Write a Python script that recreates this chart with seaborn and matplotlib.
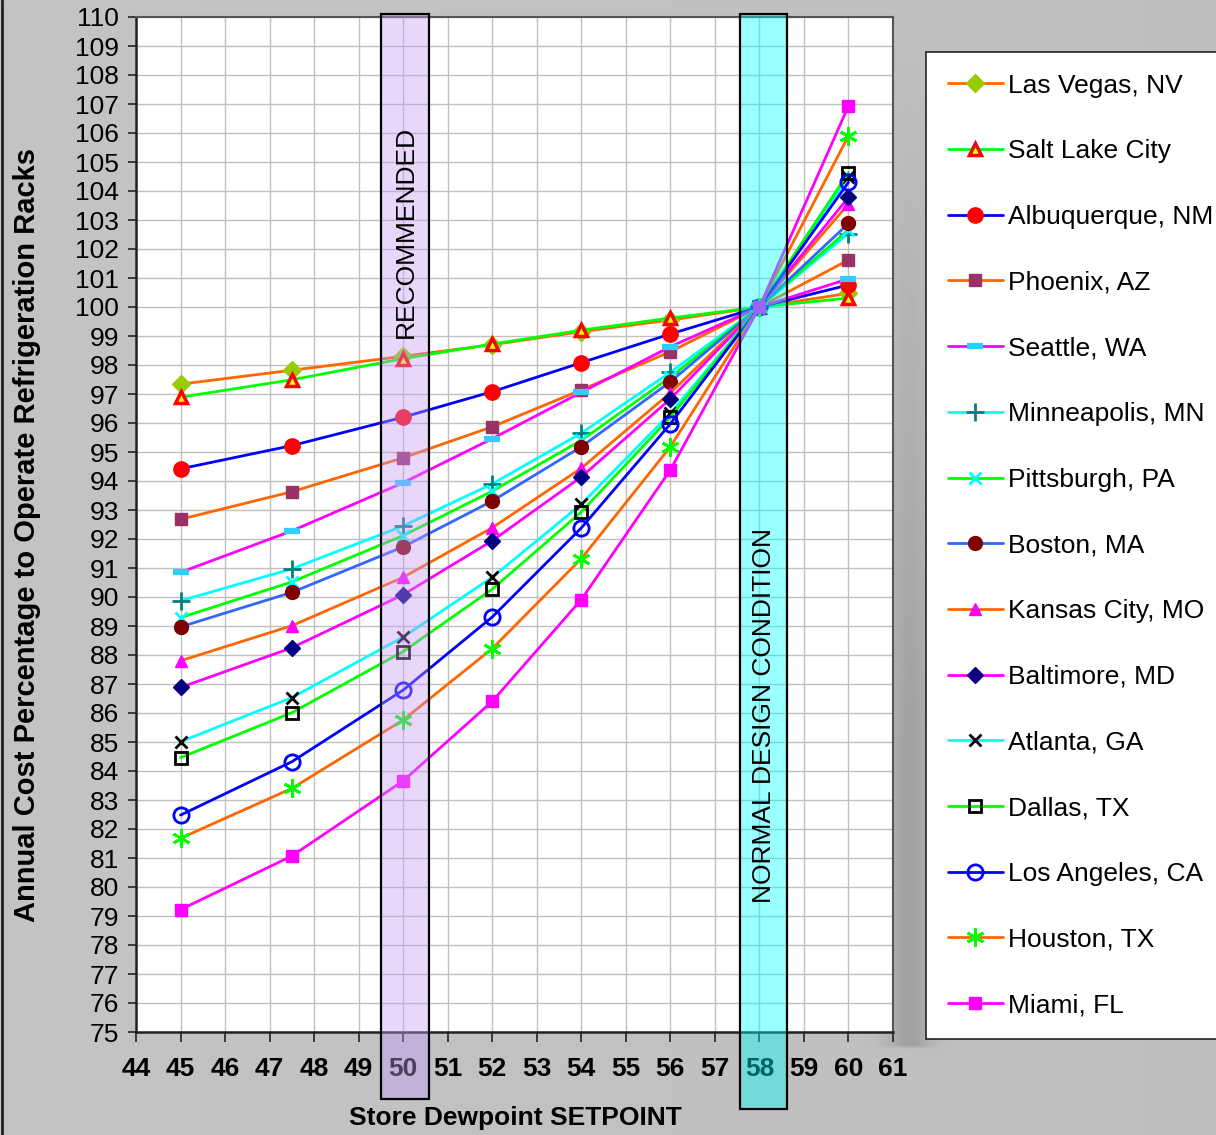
import numpy as np
import pandas as pd
import matplotlib
matplotlib.use("Agg")
import matplotlib.pyplot as plt
import matplotlib.transforms as mtransforms
from matplotlib.patches import Rectangle
import seaborn as sns

sns.set_theme(style="white")
plt.rcParams['font.family'] = ['Liberation Sans', 'DejaVu Sans']
plt.rcParams['text.color'] = 'black'
plt.rcParams['xtick.color'] = 'black'
plt.rcParams['ytick.color'] = 'black'
plt.rcParams['axes.labelcolor'] = 'black'

# ---------------- data ----------------
setpoints = [45, 47.5, 50, 52, 54, 56, 58, 60]

las_vegas   = [97.34, 97.82, 98.30, 98.70, 99.15, 99.55, 100, 100.47]
salt_lake   = [96.89, 97.49, 98.22, 98.72, 99.20, 99.62, 100, 100.31]
albuquerque = [94.42, 95.22, 96.20, 97.08, 98.08, 99.07, 100, 100.76]
phoenix     = [92.68, 93.63, 94.80, 95.87, 97.14, 98.46, 100, 101.62]
seattle     = [90.85, 92.28, 93.94, 95.46, 97.06, 98.63, 100, 100.97]
minneapolis = [89.87, 90.97, 92.45, 93.90, 95.65, 97.75, 100, 102.53]
pittsburgh  = [89.29, 90.52, 92.12, 93.65, 95.40, 97.58, 100, 102.66]
boston      = [88.97, 90.16, 91.73, 93.31, 95.18, 97.42, 100, 102.88]
kansas_city = [87.80, 89.01, 90.68, 92.39, 94.44, 97.04, 100, 103.55]
baltimore   = [86.88, 88.25, 90.08, 91.94, 94.14, 96.83, 100, 103.78]
atlanta     = [85.01, 86.53, 88.62, 90.68, 93.20, 96.33, 100, 104.50]
dallas      = [84.46, 86.01, 88.12, 90.27, 92.93, 96.20, 100, 104.63]
los_angeles = [82.48, 84.32, 86.79, 89.31, 92.38, 95.97, 100, 104.30]
houston     = [81.68, 83.40, 85.76, 88.22, 91.32, 95.18, 100, 105.90]
miami       = [79.22, 81.07, 83.66, 86.40, 89.91, 94.38, 100, 106.93]

cities = ["Las Vegas, NV", "Salt Lake City", "Albuquerque, NM", "Phoenix, AZ",
          "Seattle, WA", "Minneapolis, MN", "Pittsburgh, PA", "Boston, MA",
          "Kansas City, MO", "Baltimore, MD", "Atlanta, GA", "Dallas, TX",
          "Los Angeles, CA", "Houston, TX", "Miami, FL"]
values = [las_vegas, salt_lake, albuquerque, phoenix, seattle, minneapolis,
          pittsburgh, boston, kansas_city, baltimore, atlanta, dallas,
          los_angeles, houston, miami]

x_ticks = list(range(44, 62))
y_ticks = list(range(75, 111))

# ---------------- styles ----------------
ORANGE, GREEN, BLUE, MAG, CYAN = "#FF6600", "#00FF00", "#0000FF", "#FF00FF", "#00FFFF"
styles = [
    dict(color=ORANGE, marker="D", mfc="#99CC00", mec="#99CC00", ms=9, mew=1),
    dict(color=GREEN, marker="^", mfc="#FFFF00", mec="#FF0000", ms=9, mew=2.5),
    dict(color=BLUE, marker="o", mfc="#FF0000", mec="#FF0000", ms=11, mew=1),
    dict(color=ORANGE, marker="s", mfc="#993366", mec="#993366", ms=9, mew=1),
    dict(color=MAG, marker="_", mfc="#33CCFF", mec="#33CCFF", ms=12, mew=4.5),
    dict(color=CYAN, marker="+", mfc="#008080", mec="#008080", ms=13, mew=2),
    dict(color=GREEN, marker="x", mfc=CYAN, mec=CYAN, ms=9, mew=2),
    dict(color="#3366FF", marker="o", mfc="#800000", mec="#800000", ms=10, mew=1),
    dict(color=ORANGE, marker="^", mfc=MAG, mec=MAG, ms=9, mew=1),
    dict(color=MAG, marker="D", mfc="#000080", mec="#000080", ms=8, mew=1),
    dict(color=CYAN, marker="x", mfc="black", mec="black", ms=9, mew=2),
    dict(color=GREEN, marker="s", mfc="none", mec="black", ms=9, mew=2),
    dict(color=BLUE, marker="o", mfc="none", mec=BLUE, ms=11, mew=2),
    dict(color=ORANGE, marker=(6, 2, 0), mfc=GREEN, mec=GREEN, ms=13, mew=2),
    dict(color=MAG, marker="s", mfc=MAG, mec=MAG, ms=8, mew=1),
]

W, H = 1216, 1135
fig = plt.figure(figsize=(W / 100, H / 100), dpi=100)
fig.patch.set_facecolor("#BEBEBE")

# background gradient
bg = fig.add_axes([0, 0, 1, 1], zorder=-10)
yy, xx = np.mgrid[0:H:4, 0:W:4]
img = 0.765 - 0.02 * (xx / W)
strip = np.exp(-((xx - 908) / 22.0) ** 2) * np.clip((yy - 40) / 700.0, 0, 1) * 0.12
strip *= (yy < 1045)
img = img - strip
bg.imshow(img, cmap="gray", vmin=0, vmax=1, extent=[0, W, H, 0], aspect="auto",
          interpolation="bilinear")
bg.set_xlim(0, W)
bg.set_ylim(H, 0)
bg.axis("off")

L, R, T, B = 136, 893, 17, 1032
ax = fig.add_axes([L / W, 1 - B / H, (R - L) / W, (B - T) / H])
ax.set_facecolor("white")

for name, vals, st in zip(cities, values, styles):
    df = pd.DataFrame({"x": setpoints, "y": vals})
    sns.lineplot(data=df, x="x", y="y", ax=ax, color=st["color"], linewidth=2,
                 marker=st["marker"], markerfacecolor=st["mfc"],
                 markeredgecolor=st["mec"], markersize=st["ms"],
                 markeredgewidth=st["mew"], label=name, legend=False)

ax.set_xlim(44, 61)
ax.set_ylim(75, 110)
ax.set_xticks(x_ticks)
ax.set_yticks(y_ticks)
ax.set_xticklabels([str(t) for t in x_ticks], fontsize=19, fontweight="bold", color="black")
ax.set_yticklabels([str(t) for t in y_ticks], fontsize=19, color="black")
ax.grid(True, color="#C0C0C0", linewidth=1)
ax.set_axisbelow(True)
ax.tick_params(axis="y", direction="out", length=6, width=1.2, color="#222222", pad=6, left=True)
ax.tick_params(axis="x", direction="out", length=7, width=1.2, color="#222222", pad=11, bottom=True)
for s in ["top", "right"]:
    ax.spines[s].set_color("#555555")
    ax.spines[s].set_linewidth(1.5)
for s in ["left", "bottom"]:
    ax.spines[s].set_color("#222222")
    ax.spines[s].set_linewidth(1.8)
ax.set_xlabel("")
ax.set_ylabel("")

# legend
handles, labels = ax.get_legend_handles_labels()
leg = ax.legend(handles, labels, loc="upper left",
                bbox_to_anchor=(926 / W, 1 - 52 / H), bbox_transform=fig.transFigure,
                fontsize=19, frameon=True, fancybox=False, framealpha=1,
                edgecolor="#222222", labelspacing=1.58, handlelength=2.1,
                handletextpad=0.2, borderpad=0.82, borderaxespad=0)
leg.get_frame().set_linewidth(1.2)
for t in leg.get_texts():
    t.set_color("black")

# highlighted bands drawn on top (figure level)
trans = mtransforms.blended_transform_factory(ax.transData, fig.transFigure)
fig.add_artist(Rectangle((49.5, 1 - 1099 / H), 1.08, (1099 - 14) / H, transform=trans,
                         facecolor=(0.78, 0.60, 0.97, 0.4), edgecolor="black",
                         linewidth=1.6, zorder=1))
fig.add_artist(Rectangle((57.56, 1 - 1109 / H), 1.06, (1109 - 14) / H, transform=trans,
                         facecolor=(0.0, 1.0, 1.0, 0.4), edgecolor="black",
                         linewidth=1.6, zorder=1))

fig.text(50.05, 102.6, "RECOMMENDED", transform=ax.transData, rotation=90,
         ha="center", va="center", fontsize=19, color="black", zorder=5)
fig.text(58.1, 85.9, "NORMAL DESIGN CONDITION", transform=ax.transData, rotation=90,
         ha="center", va="center", fontsize=19, color="black", zorder=5)

fig.text(27 / W, 1 - 535 / H, "Annual Cost Percentage to Operate Refrigeration Racks",
         rotation=90, ha="center", va="center", fontsize=21, fontweight="bold", color="black")
fig.text(515 / W, 1 - 1118 / H, "Store Dewpoint SETPOINT",
         ha="center", va="center", fontsize=19, fontweight="bold", color="black")

# left border line of the chart area
fig.add_artist(plt.Line2D([2 / W, 2 / W], [0, 1], transform=fig.transFigure,
                          color="#222222", linewidth=2))

fig.savefig("out.png", dpi=100, facecolor=fig.get_facecolor())
